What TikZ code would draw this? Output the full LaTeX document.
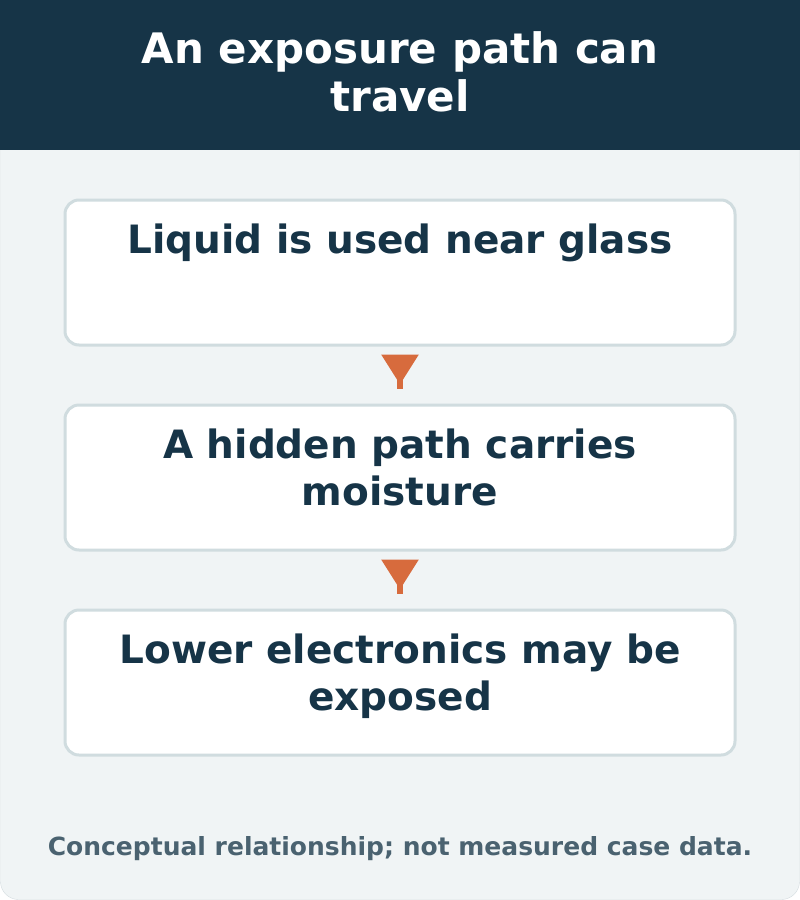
\documentclass[tikz,border=0pt]{standalone}
\usepackage{fontspec}
\setmainfont{DejaVu Sans}
\usetikzlibrary{positioning,arrows.meta}
\definecolor{navy}{HTML}{163447}
\definecolor{cardbg}{HTML}{F0F4F5}
\definecolor{cardline}{HTML}{D3DCDF}
\definecolor{boxline}{HTML}{D0DCDF}
\definecolor{accent}{HTML}{D76B3D}
\definecolor{notegray}{HTML}{4A6270}

\begin{document}
\begin{tikzpicture}
  [x=1pt,y=-1pt,
   stepbox/.style={draw=boxline,line width=3pt,fill=white,rounded corners=14pt,
     minimum width=670pt,minimum height=145pt,inner sep=0pt},
   steptext/.style={anchor=base,align=center,text=navy,
     font=\bfseries\fontsize{39}{47}\selectfont},
   flow/.style={draw=accent,line width=6pt,shorten <=8pt,shorten >=15pt,
     {Triangle[reversed,length=30pt,width=36pt]}-}]
  \useasboundingbox (0,0) rectangle (800,900);
  \path[fill=cardbg,draw=cardline,rounded corners=18pt] (0.5,0.5) rectangle (799.5,899.5);
  \fill[navy] (0,0) rectangle (800,150);
  % base of a two-line node = baseline of its last line
  \node[anchor=base,align=center,text=white,font=\bfseries\fontsize{42}{48}\selectfont]
    (title) at (400,111) {An exposure path can\\travel};

  \node[stepbox] (b1) at (400,272.5) {};
  \node[stepbox] (b2) at (400,477.5) {};
  \node[stepbox] (b3) at (400,682.5) {};
  \node[steptext] (t1) at (400,253) {Liquid is used near glass};
  \node[steptext] (t2) at (400,505) {A hidden path carries\\moisture};
  \node[steptext] (t3) at (400,710) {Lower electronics may be\\exposed};

  \draw[flow] (b1.south) -- (b2.north);
  \draw[flow] (b2.south) -- (b3.north);

  \node[anchor=base,text=notegray,font=\bfseries\fontsize{25}{30}\selectfont]
    (note) at (400,855) {Conceptual relationship; not measured case data.};
\end{tikzpicture}
\end{document}
